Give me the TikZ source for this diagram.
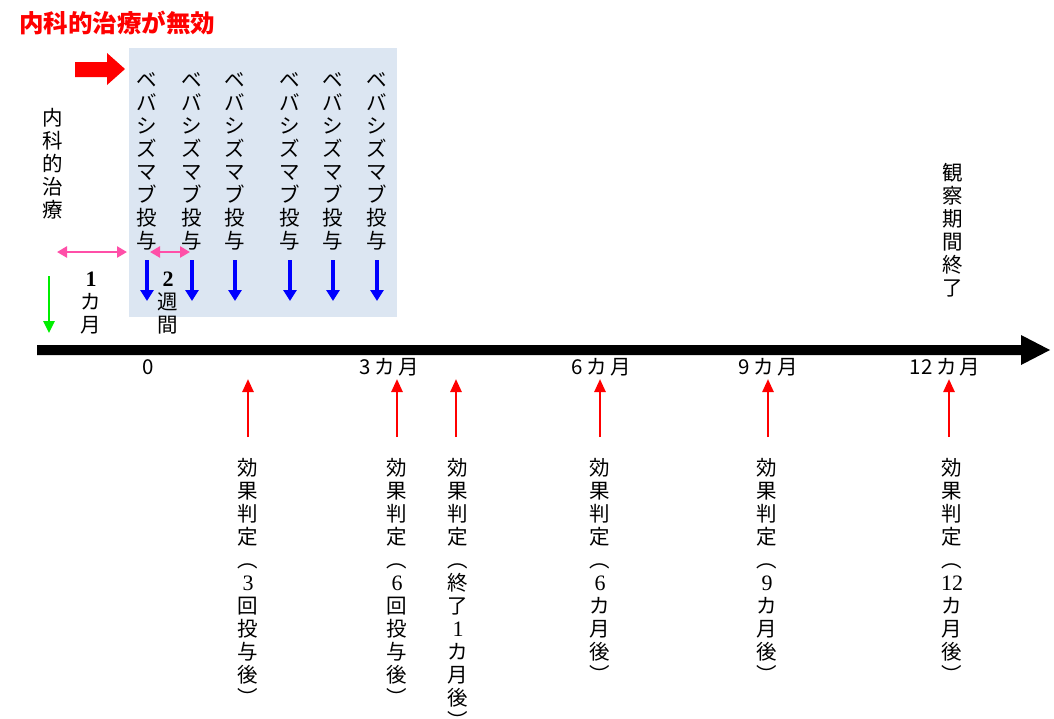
\documentclass[tikz,border=0pt]{standalone}
\usepackage{fontspec}
\setmainfont{Noto Sans CJK JP}
\newfontfamily\numfont{Liberation Serif}
\usetikzlibrary{arrows.meta}
\definecolor{boxblue}{HTML}{DCE6F2}
\definecolor{hotpink}{HTML}{FF4FA8}
\definecolor{brightgreen}{HTML}{00EE00}
\begin{document}
\begin{tikzpicture}[x=1pt,y=-1pt,
  vlab/.style={inner sep=0pt, align=center, anchor=north, font=\fontsize{20.5}{23}\selectfont},
  axlab/.style={inner sep=0pt, font=\fontsize{20.5}{22}\selectfont},
  bluearr/.style={draw=blue, line width=3.5pt, -{Triangle[width=13pt,length=11pt]}},
  redarr/.style={draw=red, line width=2.5pt, -{Triangle[width=11pt,length=13pt]}},
  pinkarr/.style={draw=hotpink, line width=2.5pt, {Triangle[width=11pt,length=10pt]}-{Triangle[width=11pt,length=10pt]}},
  greenarr/.style={draw=brightgreen, line width=2.5pt, -{Triangle[width=11pt,length=12pt]}}
]
\useasboundingbox (0,0) rectangle (1054,718);
\fill[white] (0,0) rectangle (1054,718);

% title
\node[anchor=west, inner sep=0pt, text=red, font=\fontsize{24.5}{25}\selectfont\bfseries] (title) at (19,23) {内科的治療が無効};

% blue box
\fill[boxblue] (129,48) rectangle (397,317);
\node[inner sep=0pt] (box) at (263,182) {};

% red block arrow
\fill[red] (75,62) -- (107,62) -- (107,53) -- (125,69) -- (107,85) -- (107,77) -- (75,77) -- cycle;

% bevacizumab columns
\foreach \x [count=\i] in {147,192,235,290,333,377}{
  \node[vlab] (bev\i) at (\x,72) {ベ\\バ\\シ\\ズ\\マ\\ブ\\投\\与};
  \coordinate (bt\i) at (\x,260);
  \coordinate (bb\i) at (\x,301);
  \draw[bluearr] (bt\i) -- (bb\i);
}

% internal medicine treatment
\node[vlab] (naika) at (53,108) {内\\科\\的\\治\\療};

% pink arrows
\coordinate (p1a) at (57,252);
\coordinate (p1b) at (127,252);
\coordinate (p2a) at (150,252);
\coordinate (p2b) at (190,252);
\draw[pinkarr] (p1a) -- (p1b);
\draw[pinkarr] (p2a) -- (p2b);

% green arrow
\coordinate (g1) at (49,276);
\coordinate (g2) at (49,333);
\draw[greenarr] (g1) -- (g2);

% 1 month, 2 weeks
\node[vlab] (onem) at (91,272) {{\fontsize{22}{22}\numfont\bfseries 1}\\カ\\月};
\node[vlab] (twow) at (168,272) {{\fontsize{22}{22}\numfont\bfseries 2}\\週\\間};

% end of observation
\node[vlab] (kansatsu) at (953,163) {観\\察\\期\\間\\終\\了};

% main axis
\fill[black] (37,345) -- (1021,345) -- (1021,335) -- (1050,350) -- (1021,365) -- (1021,355) -- (37,355) -- cycle;

% axis labels
\node[axlab] (t0) at (148,367) {0};
\node[axlab] (t3) at (389,367) {3\hspace{4pt}カ\hspace{3pt}月};
\node[axlab] (t6) at (601,367) {6\hspace{4pt}カ\hspace{3pt}月};
\node[axlab] (t9) at (768,367) {9\hspace{4pt}カ\hspace{3pt}月};
\node[axlab] (t12) at (945,367) {12\hspace{4pt}カ\hspace{3pt}月};

% red up arrows
\foreach \x [count=\i] in {248,397,456,600,768,949}{
  \coordinate (rb\i) at (\x,437);
  \coordinate (rt\i) at (\x,379);
  \draw[redarr] (rb\i) -- (rt\i);
}

% evaluation labels
\node[vlab] (e1) at (248,458) {効\\果\\判\\定\\︵\\{\fontsize{22}{22}\numfont 3}\\回\\投\\与\\後\\︶};
\node[vlab] (e2) at (397,458) {効\\果\\判\\定\\︵\\{\fontsize{22}{22}\numfont 6}\\回\\投\\与\\後\\︶};
\node[vlab] (e3) at (458,458) {効\\果\\判\\定\\︵\\終\\了\\{\fontsize{22}{22}\numfont 1}\\カ\\月\\後\\︶};
\node[vlab] (e4) at (600,458) {効\\果\\判\\定\\︵\\{\fontsize{22}{22}\numfont 6}\\カ\\月\\後\\︶};
\node[vlab] (e5) at (767,458) {効\\果\\判\\定\\︵\\{\fontsize{22}{22}\numfont 9}\\カ\\月\\後\\︶};
\node[vlab] (e6) at (952,458) {効\\果\\判\\定\\︵\\{\fontsize{22}{22}\numfont 12}\\カ\\月\\後\\︶};
\end{tikzpicture}
\end{document}
